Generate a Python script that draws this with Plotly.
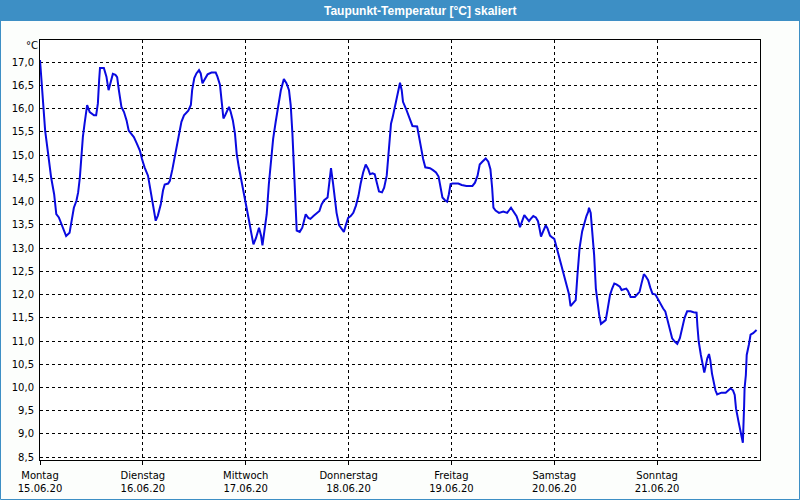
import plotly.graph_objects as go

# ---- data ----
# hours since Montag 15.06.20 00:00
hours = [0.0, 0.5, 0.9, 1.2, 1.9, 2.6, 3.3, 3.8, 4.4, 5.0, 5.8, 6.1, 6.9, 7.3, 7.9, 8.5, 8.9, 9.3, 9.6,
         10.0, 10.4, 11.0, 11.6, 12.0, 12.6, 13.1, 13.5, 13.8, 14.0, 14.9, 15.5, 16.0, 16.5, 17.0, 17.6,
         18.0, 18.4, 19.0, 19.6, 20.2, 20.7, 21.2, 21.9, 22.6, 23.3, 23.8, 24.4, 25.2, 25.7, 26.4, 27.0,
         27.5, 28.2, 28.7, 29.1, 29.9, 30.3, 30.9, 31.4, 32.0, 32.6, 33.0, 33.6, 34.6, 35.2, 35.5, 36.0,
         36.5, 37.1, 37.5, 37.9, 38.5, 39.1, 40.0, 41.0, 41.4, 42.0, 42.4, 42.8, 43.2, 43.7, 44.1, 44.5,
         45.0, 45.5, 45.9, 46.4, 47.0, 47.7, 48.2, 48.8, 49.2, 49.8, 50.4, 51.1, 51.6, 51.9, 52.3, 52.9,
         53.4, 53.9, 54.4, 55.0, 55.6, 56.2, 56.9, 57.5, 58.1, 58.5, 58.9, 59.2, 59.5, 59.9, 60.6, 61.2,
         61.7, 62.0, 62.6, 63.1, 63.8, 64.5, 65.2, 65.7, 66.3, 67.1, 67.5, 67.9, 68.4, 68.8, 69.2, 69.8,
         70.4, 70.9, 71.4, 71.9, 72.5, 73.1, 73.7, 74.3, 74.8, 75.4, 76.0, 76.6, 77.0, 77.6, 78.1, 78.5,
         79.1, 79.8, 80.3, 80.9, 81.2, 81.6, 81.9, 82.3, 82.8, 83.3, 84.0, 84.4, 84.7, 85.4, 85.9, 86.5,
         86.9, 88.0, 88.5, 88.9, 89.4, 89.9, 91.0, 91.7, 92.4, 93.0, 93.5, 93.9, 94.5, 95.0, 95.4, 95.8,
         96.3, 97.6, 98.4, 99.5, 100.9, 101.5, 102.1, 102.6, 103.2, 104.0, 104.6, 105.1, 105.5, 105.8,
         106.3, 107.1, 108.1, 109.0, 109.9, 110.6, 111.2, 111.6, 112.0, 112.5, 113.0, 113.5, 114.1,
         114.5, 115.1, 115.7, 116.2, 116.6, 116.9, 117.4, 118.0, 118.4, 119.0, 119.5, 120.0, 120.5,
         121.1, 121.7, 122.3, 122.8, 123.4, 123.8, 124.4, 125.0, 125.4, 125.9, 126.5, 127.0, 127.5,
         127.9, 128.1, 128.5, 128.8, 129.3, 129.7, 130.1, 130.5, 130.9, 131.6, 132.0, 132.4, 133.0,
         133.5, 134.0, 134.5, 135.3, 135.7, 136.8, 137.2, 137.8, 138.8, 139.4, 139.9, 140.3, 140.9,
         141.3, 141.9, 142.4, 142.9, 143.6, 144.2, 144.8, 145.4, 145.9, 146.4, 146.9, 147.5, 148.1,
         148.7, 149.3, 149.9, 150.4, 151.0, 151.8, 152.5, 153.2, 153.4, 153.7, 154.2, 154.6, 155.0,
         155.3, 155.7, 156.1, 156.4, 156.8, 157.2, 157.6, 158.0, 159.0, 160.0, 160.5, 161.1, 161.7,
         162.1, 162.4, 162.7, 163.0, 163.4, 163.7, 164.0, 164.3, 164.4, 164.7, 164.9, 165.4, 165.8,
         166.4, 167.2]
dewpoint = [17.05, 16.44, 15.75, 15.53, 15.03, 14.52, 14.16, 13.73, 13.66, 13.51, 13.33, 13.26, 13.33,
            13.55, 13.87, 14.02, 14.20, 14.52, 14.96, 15.39, 15.68, 16.08, 15.93, 15.90, 15.86, 15.86,
            16.11, 16.62, 16.88, 16.88, 16.69, 16.40, 16.55, 16.75, 16.73, 16.68, 16.40, 16.04, 15.93,
            15.75, 15.53, 15.46, 15.39, 15.25, 15.10, 14.92, 14.74, 14.56, 14.31, 13.95, 13.59, 13.70,
            13.95, 14.24, 14.37, 14.39, 14.45, 14.70, 14.96, 15.28, 15.57, 15.72, 15.86, 15.96, 16.08,
            16.40, 16.66, 16.76, 16.83, 16.76, 16.55, 16.66, 16.74, 16.78, 16.78, 16.69, 16.51, 16.15,
            15.79, 15.86, 15.97, 16.04, 15.93, 15.75, 15.46, 15.03, 14.74, 14.45, 14.16, 13.95, 13.58,
            13.37, 13.08, 13.22, 13.44, 13.26, 13.06, 13.33, 13.73, 14.38, 14.92, 15.35, 15.72, 16.08,
            16.40, 16.64, 16.55, 16.40, 16.08, 15.46, 14.74, 14.18, 13.38, 13.35, 13.44, 13.62, 13.73,
            13.65, 13.63, 13.69, 13.75, 13.80, 13.94, 14.03, 14.09, 14.49, 14.72, 14.38, 14.02, 13.76,
            13.49, 13.40, 13.35, 13.51, 13.65, 13.69, 13.76, 13.91, 14.12, 14.38, 14.63, 14.80, 14.70,
            14.59, 14.61, 14.59, 14.41, 14.22, 14.20, 14.30, 14.56, 14.88, 15.32, 15.68, 15.82, 16.04,
            16.26, 16.56, 16.40, 16.15, 16.00, 15.89, 15.75, 15.63, 15.62, 15.35, 15.14, 14.92, 14.74,
            14.72, 14.68, 14.63, 14.54, 14.30, 14.09, 14.03, 14.00, 14.16, 14.38, 14.39, 14.39, 14.36,
            14.34, 14.34, 14.41, 14.56, 14.80, 14.86, 14.93, 14.86, 14.70, 14.30, 13.87, 13.81, 13.76,
            13.79, 13.76, 13.87, 13.78, 13.69, 13.58, 13.45, 13.58, 13.71, 13.65, 13.58, 13.63, 13.69,
            13.66, 13.58, 13.40, 13.25, 13.36, 13.49, 13.43, 13.27, 13.23, 13.20, 13.03, 12.82, 12.60,
            12.42, 12.20, 12.02, 11.75, 11.81, 11.88, 12.42, 13.00, 13.36, 13.54, 13.69, 13.78, 13.87,
            13.76, 13.43, 12.85, 12.13, 11.77, 11.55, 11.37, 11.41, 11.45, 11.66, 11.99, 12.13, 12.24,
            12.22, 12.17, 12.10, 12.13, 12.08, 11.95, 11.95, 12.00, 12.06, 12.22, 12.44, 12.40, 12.31,
            12.15, 12.02, 12.00, 11.89, 11.79, 11.70, 11.64, 11.46, 11.24, 11.06, 10.99, 10.94, 11.06,
            11.28, 11.50, 11.64, 11.64, 11.62, 11.61, 11.32, 10.99, 10.70, 10.49, 10.32, 10.45, 10.63,
            10.72, 10.59, 10.30, 10.09, 9.94, 9.85, 9.89, 9.89, 9.94, 9.98, 9.94, 9.84, 9.55, 9.37, 9.26,
            9.08, 8.97, 8.81, 9.62, 9.98, 10.27, 10.70, 10.92, 11.14, 11.17, 11.24]

day_hours = [0, 24, 48, 72, 96, 120, 144]
day_names = ["Montag", "Dienstag", "Mittwoch", "Donnerstag", "Freitag", "Samstag", "Sonntag"]
day_dates = ["15.06.20", "16.06.20", "17.06.20", "18.06.20", "19.06.20", "20.06.20", "21.06.20"]
y_ticks = [8.5 + 0.5 * i for i in range(18)]
y_labels = [f"{v:.1f}".replace(".", ",") for v in y_ticks]
title_text = "Taupunkt-Temperatur [°C] skaliert"
unit_text = "°C"

# ---- figure ----
W, H = 800, 500
L, R, T, B = 40, 40, 40, 40
pw, ph = W - L - R, H - T - B


def px(xp):
    return (xp - L) / pw


def py(yp):
    return (H - B - yp) / ph


BLUE_BAR = "#3d8fc5"

fig = go.Figure()
fig.add_trace(go.Scatter(x=hours, y=dewpoint, mode="lines",
                         line=dict(color="#0a0ae0", width=2), hoverinfo="skip",
                         showlegend=False))

fig.update_layout(
    width=W, height=H,
    margin=dict(l=L, r=R, t=T, b=B, pad=0, autoexpand=False),
    paper_bgcolor="#fcfefc",
    plot_bgcolor="white",
    font=dict(family="DejaVu Sans", size=10, color="black"),
    xaxis=dict(
        range=[0, 168], tickmode="array", tickvals=day_hours,
        ticktext=[f"{n}<br>{d}" for n, d in zip(day_names, day_dates)],
        showgrid=True, gridcolor="black", gridwidth=1, griddash="3px,3px",
        showline=True, linecolor="black", linewidth=1, mirror=True,
        ticks="outside", ticklen=4, tickcolor="black", zeroline=False,
        automargin=False, ticklabelstandoff=2, fixedrange=True,
    ),
    yaxis=dict(
        range=[8.44, 17.48], tickmode="array", tickvals=y_ticks, ticktext=y_labels,
        showgrid=True, gridcolor="black", gridwidth=1, griddash="3px,3px",
        showline=True, linecolor="black", linewidth=1, mirror=True,
        ticks="", zeroline=False, ticklabelstandoff=3, automargin=False,
        fixedrange=True,
    ),
    shapes=[
        dict(type="rect", xref="paper", yref="paper", x0=px(0), x1=px(W), y0=py(0), y1=py(21),
             fillcolor=BLUE_BAR, line=dict(width=0), layer="below"),
        dict(type="rect", xref="paper", yref="paper", x0=px(0.5), x1=px(W - 0.5),
             y0=py(H - 0.5), y1=py(0.5), fillcolor="rgba(0,0,0,0)",
             line=dict(color=BLUE_BAR, width=1), layer="above"),
    ],
    annotations=[
        dict(text=f"<b>{title_text}</b>", xref="paper", yref="paper", x=px(420), y=py(10.5),
             xanchor="center", yanchor="middle", showarrow=False,
             font=dict(family="Liberation Sans", size=12, color="white")),
        dict(text=unit_text, xref="paper", yref="paper", x=px(32), y=py(46),
             xanchor="center", yanchor="middle", showarrow=False,
             font=dict(family="DejaVu Sans", size=10, color="black")),
    ],
)

fig.write_html("out.html")
